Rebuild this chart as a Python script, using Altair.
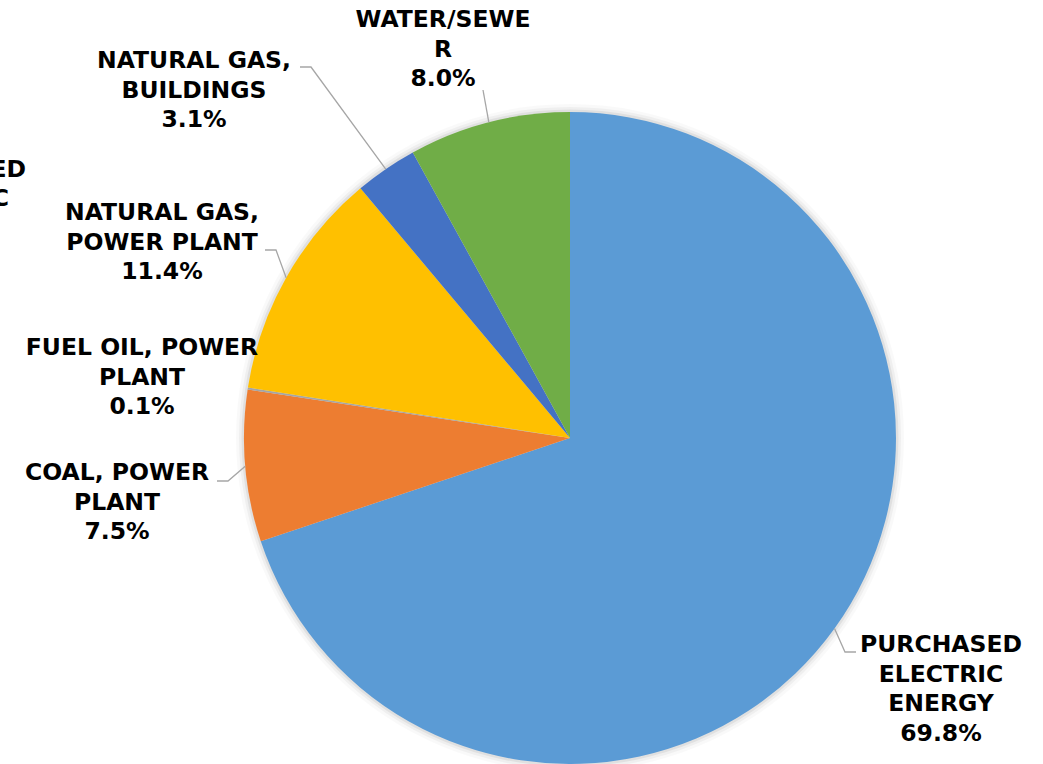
import math
import altair as alt
import pandas as pd

# Energy cost shares, clockwise from 12 o'clock
categories = [
    "Purchased Electric Energy",
    "Coal, Power Plant",
    "Fuel Oil, Power Plant",
    "Natural Gas, Power Plant",
    "Natural Gas, Buildings",
    "Water/Sewer",
]
values = [69.8, 7.5, 0.1, 11.4, 3.1, 8.0]
colors = ["#5B9BD5", "#ED7D31", "#A5A5A5", "#FFC000", "#4472C4", "#70AD47"]

# Label text as wrapped in the chart
label_names = [
    "Purchased\nElectric\nEnergy",
    "Coal, Power\nPlant",
    "Fuel Oil, Power\nPlant",
    "Natural Gas,\nPower Plant",
    "Natural Gas,\nBuildings",
    "Water/Sewe\nr",
]

# Layout: pie geometry and label placement (pixels)
CX, CY, R = 570, 438, 326
label_xy = [(941, 652), (117, 480), (142, 355), (162, 220), (194, 68), (443, 27)]
# leader line: (outer end, elbow) per slice; None = no leader
leader_pts = [
    ((856, 652), (845, 652)),
    ((217, 481), (228, 481)),
    None,
    ((265, 250), (276, 250)),
    ((300, 67), (311, 67)),
    ((483, 90), (483, 90)),
]

FONT = "DejaVu Sans"
FSIZE = 23.5
LINE_H = 29.5

pie_df = pd.DataFrame({"category": categories, "value": values, "idx": range(len(values))})

total = sum(values)
rows_lbl, rows_lead = [], []
acc = 0.0
for i, (name, v) in enumerate(zip(label_names, values)):
    mid = (acc + v / 2) / total * 2 * math.pi
    acc += v
    sx = CX + R * math.sin(mid)
    sy = CY - R * math.cos(mid)
    lx, ly = label_xy[i]
    rows_lbl.append({"lx": lx, "ly": ly, "label": (name + "\n" + f"{v:.1f}%").upper()})
    if leader_pts[i] is not None:
        end, elbow = leader_pts[i]
        for k, (px, py) in enumerate([end, elbow, (sx, sy)]):
            rows_lead.append({"leader": i, "o": k, "px": px, "py": py})

lbl_df = pd.DataFrame(rows_lbl)
lead_df = pd.DataFrame(rows_lead)

# Fragment of a neighbouring label running off the left edge
frag_df = pd.DataFrame({"lx": [26, 9], "ly": [177, 206], "label": ["PURCHASED", "ELECTRIC"]})

# soft halo around the pie
shadow = alt.layer(*[
    alt.Chart(pd.DataFrame({"t": [1]})).mark_arc(
        outerRadius=r, theta=0, theta2=2 * math.pi, color="#000000", opacity=op
    ).encode(x=alt.value(CX), y=alt.value(CY))
    for r, op in [(334, 0.025), (331, 0.04), (328.5, 0.06)]
])

pie = alt.Chart(pie_df).mark_arc(outerRadius=R).encode(
    theta=alt.Theta("value:Q", stack=True),
    color=alt.Color("category:N", scale=alt.Scale(domain=categories, range=colors), legend=None),
    order=alt.Order("idx:Q"),
    x=alt.value(CX),
    y=alt.value(CY),
)

leaders = alt.Chart(lead_df).mark_line(color="#A6A6A6", strokeWidth=1.3).encode(
    x=alt.X("px:Q", scale=None),
    y=alt.Y("py:Q", scale=None),
    detail="leader:N",
    order="o:Q",
)

labels = alt.Chart(lbl_df).mark_text(
    font=FONT, fontSize=FSIZE, fontWeight="bold", color="#000000",
    align="center", baseline="alphabetic", lineBreak="\n", lineHeight=LINE_H,
).encode(x=alt.X("lx:Q", scale=None), y=alt.Y("ly:Q", scale=None), text="label:N")

fragment = alt.Chart(frag_df).mark_text(
    font=FONT, fontSize=FSIZE, fontWeight="bold", color="#000000",
    align="right", baseline="alphabetic",
).encode(x=alt.X("lx:Q", scale=None), y=alt.Y("ly:Q", scale=None), text="label:N")

chart = alt.layer(shadow, pie, leaders, labels, fragment).properties(
    width=1043, height=764, padding=0,
    autosize=alt.AutoSizeParams(type="none"),
    background="#FFFFFF",
).configure_view(stroke=None)

chart.save("out.html", embed_options={"renderer": "svg", "actions": False})
